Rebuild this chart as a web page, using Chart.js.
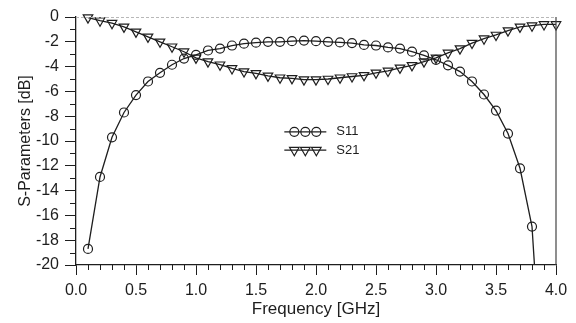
<!DOCTYPE html>
<html><head><meta charset="utf-8">
<script src="https://cdn.jsdelivr.net/npm/chart.js@4/dist/chart.umd.min.js"></script>
<style>html,body{margin:0;padding:0;background:#fff}#wrap{width:576px;height:323px;position:relative}</style>
</head><body><div id="wrap"><canvas id="c" width="576" height="323"></canvas></div>
<script>
// Frequencies (GHz)
const freqS11 = [0.1,0.2,0.3,0.4,0.5,0.6,0.7,0.8,0.9,1.0,1.1,1.2,1.3,1.4,1.5,1.6,1.7,1.8,1.9,2.0,2.1,2.2,2.3,2.4,2.5,2.6,2.7,2.8,2.9,3.0,3.1,3.2,3.3,3.4,3.5,3.6,3.7,3.8,3.9];
const freqS21 = [0.1,0.2,0.3,0.4,0.5,0.6,0.7,0.8,0.9,1.0,1.1,1.2,1.3,1.4,1.5,1.6,1.7,1.8,1.9,2.0,2.1,2.2,2.3,2.4,2.5,2.6,2.7,2.8,2.9,3.0,3.1,3.2,3.3,3.4,3.5,3.6,3.7,3.8,3.9,4.0];
// S-parameters (dB)
const s11 = [-18.7,-12.9,-9.7,-7.7,-6.3,-5.2,-4.5,-3.85,-3.35,-3.05,-2.7,-2.55,-2.3,-2.15,-2.07,-2.0,-2.0,-1.95,-1.9,-1.95,-2.0,-2.05,-2.1,-2.25,-2.3,-2.45,-2.55,-2.8,-3.1,-3.45,-3.9,-4.4,-5.2,-6.25,-7.55,-9.4,-12.2,-16.9,-32];
const s21 = [-0.05,-0.3,-0.5,-0.8,-1.2,-1.6,-2.0,-2.4,-2.8,-3.3,-3.6,-3.85,-4.15,-4.4,-4.55,-4.75,-4.9,-4.95,-5.05,-5.05,-5.0,-4.9,-4.8,-4.7,-4.5,-4.35,-4.1,-3.9,-3.6,-3.3,-2.9,-2.55,-2.1,-1.75,-1.45,-1.1,-0.8,-0.7,-0.6,-0.6];
const seriesNames = ['S11','S21'];
const xTickLabels = ['0.0','0.5','1.0','1.5','2.0','2.5','3.0','3.5','4.0'];
const yTickLabels = ['0','-2','-4','-6','-8','-10','-12','-14','-16','-18','-20'];
const xTitle = 'Frequency [GHz]';
const yTitle = 'S-Parameters [dB]';

const INK = '#1e1e1e';
const FONT = "'Liberation Sans', Arial, sans-serif";

const frameAndMinor = {
  id: 'frameAndMinor',
  afterDraw(chart) {
    const {ctx, chartArea: a, scales: {x, y}} = chart;
    ctx.save();
    // top border (faint dashed) and right border
    ctx.strokeStyle = '#b8b8b8'; ctx.lineWidth = 1; ctx.setLineDash([3,2]);
    ctx.beginPath(); ctx.moveTo(a.left, a.top + 0.5); ctx.lineTo(a.right, a.top + 0.5); ctx.stroke();
    ctx.setLineDash([]);
    ctx.strokeStyle = '#444'; ctx.lineWidth = 1.2;
    ctx.beginPath(); ctx.moveTo(a.right, a.top); ctx.lineTo(a.right, a.bottom); ctx.stroke();
    // minor ticks
    ctx.strokeStyle = INK; ctx.lineWidth = 1;
    for (let i = 0; i <= 40; i++) {
      if (i % 5 === 0) continue;
      const px = Math.round(x.getPixelForValue(i / 10)) + 0.5;
      ctx.beginPath(); ctx.moveTo(px, a.bottom); ctx.lineTo(px, a.bottom + 5); ctx.stroke();
    }
    for (let v = -19; v < 0; v += 2) {
      const py = Math.round(y.getPixelForValue(v)) + 0.5;
      ctx.beginPath(); ctx.moveTo(a.left, py); ctx.lineTo(a.left - 6, py); ctx.stroke();
    }
    // legend
    const lx0 = a.left + (a.right - a.left) * 0.434;
    const lx1 = lx0 + 42;
    const rows = [{y: a.top + (a.bottom - a.top) * 0.463, ds: 0}, {y: a.top + (a.bottom - a.top) * 0.537, ds: 1}];
    rows.forEach(r => {
      const opts = chart.data.datasets[r.ds];
      ctx.strokeStyle = INK; ctx.lineWidth = 1.2;
      ctx.beginPath(); ctx.moveTo(lx0, r.y); ctx.lineTo(lx1, r.y); ctx.stroke();
      ctx.fillStyle = 'rgba(0,0,0,0)';
      [10, 21, 32].forEach(dx => {
        Chart.helpers.drawPoint(ctx, {pointStyle: opts.pointStyle, radius: opts.pointRadius, rotation: opts.pointRotation || 0, borderWidth: 1.2}, lx0 + dx, r.y);
      });
      ctx.fillStyle = INK; ctx.font = "13px " + FONT; ctx.textBaseline = 'middle'; ctx.textAlign = 'left';
      ctx.fillText(seriesNames[r.ds], lx1 + 10, r.y);
    });
    ctx.restore();
  }
};

new Chart(document.getElementById('c'), {
  type: 'line',
  data: {
    datasets: [
      {label: seriesNames[0], data: freqS11.map((f, i) => ({x: f, y: s11[i]})), borderColor: INK, borderWidth: 1.3,
       pointStyle: 'circle', pointRadius: 4.5, pointBorderWidth: 1.2, pointBackgroundColor: 'rgba(0,0,0,0)', pointBorderColor: INK, tension: 0},
      {label: seriesNames[1], data: freqS21.map((f, i) => ({x: f, y: s21[i]})), borderColor: INK, borderWidth: 1.3, clip: false,
       pointStyle: 'triangle', pointRotation: 180, pointRadius: 5.5, pointBorderWidth: 1.2, pointBackgroundColor: 'rgba(0,0,0,0)', pointBorderColor: INK, tension: 0}
    ]
  },
  options: {
    responsive: false, animation: false, devicePixelRatio: 1,
    layout: {padding: {top: 17, right: 20, left: 0, bottom: 0}, autoPadding: false},
    plugins: {legend: {display: false}, tooltip: {enabled: false}},
    elements: {point: {hoverRadius: 4.5}},
    scales: {
      x: {
        type: 'linear', min: 0, max: 4,
        afterFit: s => { s.height = 58; },
        afterBuildTicks: s => { s.ticks = xTickLabels.map(t => ({value: parseFloat(t)})); },
        ticks: {callback: (v, i) => xTickLabels[i], color: INK, font: {family: FONT, size: 16}, padding: 6, maxRotation: 0, autoSkip: false},
        grid: {drawOnChartArea: false, tickLength: 10, tickColor: INK, tickWidth: 1},
        border: {color: INK, width: 1.3},
        title: {display: true, text: xTitle, color: INK, font: {family: FONT, size: 17}, padding: {top: 0, bottom: 3}}
      },
      y: {
        type: 'linear', min: -20, max: 0,
        afterFit: s => { s.width = 76; },
        afterBuildTicks: s => { s.ticks = yTickLabels.map(t => ({value: parseFloat(t)})); },
        ticks: {callback: (v, i) => yTickLabels[i], color: INK, font: {family: FONT, size: 16}, padding: 6, autoSkip: false},
        grid: {drawOnChartArea: false, tickLength: 11, tickColor: INK, tickWidth: 1},
        border: {color: INK, width: 1.3},
        title: {display: true, text: yTitle, color: INK, font: {family: FONT, size: 16}, padding: {top: 16, bottom: 0}}
      }
    }
  },
  plugins: [frameAndMinor]
});
</script>
</body></html>
